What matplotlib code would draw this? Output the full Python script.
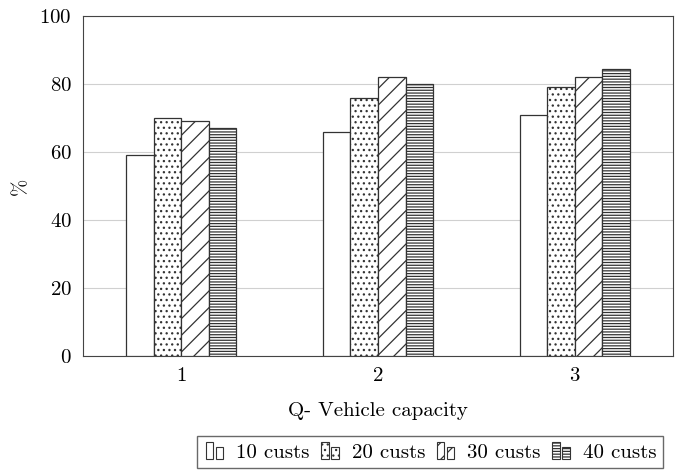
import numpy as np
import matplotlib
matplotlib.use("Agg")
import matplotlib.pyplot as plt
from matplotlib.patches import Patch, Rectangle
from matplotlib.legend_handler import HandlerBase

plt.rcParams["font.family"] = ["cmr10", "DejaVu Serif"]
plt.rcParams["mathtext.fontset"] = "cm"
plt.rcParams["axes.formatter.use_mathtext"] = True
plt.rcParams["hatch.linewidth"] = 0.9

capacities = [1, 2, 3]
series_labels = ["10 custs", "20 custs", "30 custs", "40 custs"]
values = {
    "10 custs": [59, 66, 71],
    "20 custs": [70, 76, 79],
    "30 custs": [69, 82, 82],
    "40 custs": [67, 80, 84.5],
}
hatches = ["", "...", "//", "------"]


class TwoBarHandler(HandlerBase):
    # pgfplots-style legend image: two small bars side by side
    def create_artists(self, legend, orig_handle, xdescent, ydescent,
                       width, height, fontsize, trans):
        bw = width * 0.32
        out = []
        for x0, frac in [(0.12, 1.0), (0.56, 0.72)]:
            r = Rectangle((-xdescent + width * x0, -ydescent), bw, height * frac,
                          facecolor="white", edgecolor="#333333",
                          hatch=orig_handle.get_hatch(), linewidth=0.8,
                          transform=trans)
            out.append(r)
        return out


fig = plt.figure(figsize=(6.75, 4.72), dpi=100)
ax = fig.add_axes([0.123, 0.246, 0.874, 0.720])

x = np.array(capacities, dtype=float)
width = 0.14
offsets = (np.arange(len(series_labels)) - 1.5) * width
handles = []
for off, lab, h in zip(offsets, series_labels, hatches):
    ax.bar(x + off, values[lab], width, facecolor="white", edgecolor="#333333",
           hatch=h, linewidth=0.9, zorder=3)
    handles.append(Patch(facecolor="white", edgecolor="#333333", hatch=h))

ax.set_xlim(0.5, 3.5)
ax.set_ylim(0, 100)
ax.set_xticks(capacities)
ax.set_yticks([0, 20, 40, 60, 80, 100])
ax.yaxis.grid(True, color="#d0d0d0", linewidth=0.8, zorder=0)
ax.set_axisbelow(True)
for s in ax.spines.values():
    s.set_color("#444444")
    s.set_linewidth(0.8)
ax.tick_params(axis="both", length=0, labelsize=15, pad=8)
ax.set_xlabel("Q- Vehicle capacity", fontsize=15, labelpad=12)
ax.set_ylabel("%", fontsize=15, labelpad=7)

fig.legend(handles, series_labels, loc="lower right", bbox_to_anchor=(0.982, 0.008),
           ncol=4, frameon=True, fancybox=False, edgecolor="#444444", fontsize=15,
           handler_map={Patch: TwoBarHandler()},
           handlelength=1.1, handleheight=0.9, handletextpad=0.5, columnspacing=0.42,
           borderpad=0.3, borderaxespad=0.0)

fig.savefig("out.png", dpi=100)
